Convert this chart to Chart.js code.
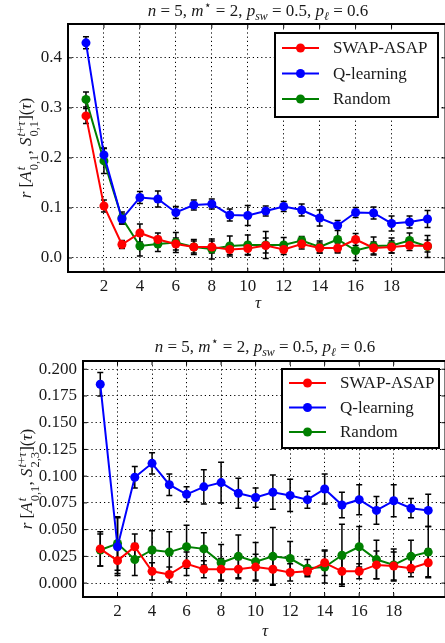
<!DOCTYPE html>
<html>
<head>
<meta charset="utf-8">
<script src="https://cdn.jsdelivr.net/npm/chart.js@4.4.1/dist/chart.umd.min.js"></script>
<style>
    body { margin: 0; width: 445px; height: 643px; overflow: hidden; background: #fff; position: relative; font-family: "Liberation Serif", "DejaVu Serif", serif; color: #1a1a1a; }
    .panel { position: absolute; left: 0; width: 450px; }
    .txt { position: absolute; font-size: 17px; white-space: nowrap; transform: translate(-50%, -50%); }
    .ylab { position: absolute; font-size: 17px; white-space: nowrap; transform: translate(-50%, -50%) rotate(-90deg); }
    .ss { display: inline-block; vertical-align: -0.55em; font-size: 0.74em; line-height: 1.0; text-align: left; margin-left: 1px; }
    .ss span { display: block; }
    sub, sup { font-size: 0.7em; line-height: 0; }
</style>
</head>
<body>
<div class="panel" style="top:0;height:318px"><canvas id="grafico1"></canvas></div>
<div class="panel" style="top:322px;height:300px"><canvas id="grafico2"></canvas></div>

<div class="txt" style="left:258px;top:11px"><i>n</i> = 5, <i>m</i><sup>⋆</sup> = 2, <i>p<sub>sw</sub></i> = 0.5, <i>p<sub>ℓ</sub></i> = 0.6</div>
<div class="txt" style="left:265px;top:347px"><i>n</i> = 5, <i>m</i><sup>⋆</sup> = 2, <i>p<sub>sw</sub></i> = 0.5, <i>p<sub>ℓ</sub></i> = 0.6</div>
<div class="ylab" style="left:28px;top:148px"><i>r</i> [<i>A</i><span class="ss"><span><i>t</i></span><span>0,1</span></span>, <i>S</i><span class="ss"><span><i>t</i>+<i>τ</i></span><span>0,1</span></span>](<i>τ</i>)</div>
<div class="ylab" style="left:29px;top:479px"><i>r</i> [<i>A</i><span class="ss"><span><i>t</i></span><span>0,1</span></span>, <i>S</i><span class="ss"><span><i>t</i>+<i>τ</i></span><span>2,3</span></span>](<i>τ</i>)</div>
<div class="txt" style="left:258px;top:303px"><i>τ</i></div>
<div class="txt" style="left:265px;top:631px"><i>τ</i></div>

<script>
// Datos
const tau = [1, 2, 3, 4, 5, 6, 7, 8, 9, 10, 11, 12, 13, 14, 15, 16, 17, 18, 19, 20];
const xTicks = [2, 4, 6, 8, 10, 12, 14, 16, 18];
const seriesNames = ['SWAP-ASAP', 'Q-learning', 'Random'];

// Panel superior: r[A_{0,1}, S_{0,1}]
const swapTop = [0.284, 0.104, 0.027, 0.050, 0.037, 0.028, 0.022, 0.022, 0.017, 0.019, 0.025, 0.017, 0.028, 0.020, 0.020, 0.037, 0.020, 0.022, 0.025, 0.024];
const swapTopErr = [0.015, 0.012, 0.008, 0.018, 0.013, 0.012, 0.012, 0.012, 0.010, 0.012, 0.015, 0.010, 0.010, 0.010, 0.010, 0.012, 0.012, 0.012, 0.010, 0.012];
const qTop = [0.430, 0.206, 0.078, 0.121, 0.118, 0.091, 0.106, 0.108, 0.086, 0.085, 0.094, 0.103, 0.096, 0.080, 0.065, 0.091, 0.090, 0.069, 0.072, 0.078];
const qTopErr = [0.012, 0.014, 0.010, 0.012, 0.016, 0.012, 0.010, 0.010, 0.012, 0.020, 0.010, 0.010, 0.012, 0.016, 0.010, 0.010, 0.012, 0.015, 0.012, 0.017];
const randTop = [0.317, 0.194, 0.080, 0.024, 0.028, 0.031, 0.022, 0.018, 0.024, 0.026, 0.026, 0.026, 0.035, 0.022, 0.037, 0.015, 0.024, 0.025, 0.035, 0.023];
const randTopErr = [0.015, 0.025, 0.012, 0.020, 0.015, 0.020, 0.015, 0.020, 0.020, 0.020, 0.027, 0.015, 0.008, 0.012, 0.025, 0.020, 0.018, 0.015, 0.015, 0.022];
const yTicksTop = [0.0, 0.1, 0.2, 0.3, 0.4];

// Panel inferior: r[A_{0,1}, S_{2,3}]
const swapBot = [0.032, 0.021, 0.034, 0.011, 0.008, 0.018, 0.013, 0.013, 0.013, 0.015, 0.013, 0.010, 0.011, 0.019, 0.011, 0.011, 0.017, 0.016, 0.014, 0.019];
const swapBotErr = [0.016, 0.012, 0.012, 0.008, 0.007, 0.011, 0.008, 0.010, 0.009, 0.012, 0.014, 0.008, 0.004, 0.012, 0.012, 0.007, 0.013, 0.013, 0.008, 0.013];
const qBot = [0.186, 0.034, 0.099, 0.112, 0.092, 0.083, 0.090, 0.094, 0.084, 0.080, 0.085, 0.082, 0.078, 0.088, 0.073, 0.078, 0.068, 0.077, 0.070, 0.068];
const qBotErr = [0.011, 0.027, 0.010, 0.010, 0.010, 0.007, 0.016, 0.019, 0.014, 0.009, 0.016, 0.015, 0.008, 0.014, 0.012, 0.014, 0.013, 0.015, 0.009, 0.015];
const randBot = [0.031, 0.037, 0.022, 0.031, 0.029, 0.034, 0.032, 0.019, 0.025, 0.020, 0.025, 0.023, 0.014, 0.015, 0.026, 0.034, 0.022, 0.017, 0.025, 0.029];
const randBotErr = [0.015, 0.025, 0.015, 0.018, 0.019, 0.020, 0.015, 0.017, 0.020, 0.018, 0.027, 0.016, 0.008, 0.015, 0.029, 0.019, 0.018, 0.015, 0.015, 0.024];
const yTicksBot = [0.000, 0.025, 0.050, 0.075, 0.100, 0.125, 0.150, 0.175, 0.200];

const colors = ['#ff0000', '#0000ff', '#008000'];
const FONT = '"Liberation Serif", "DejaVu Serif", serif';

// Barras de error dibujadas con las escalas del gráfico
const errorBarsPlugin = {
    id: 'errorBars',
    beforeDatasetsDraw(chart) {
        const ctx = chart.ctx;
        const xs = chart.scales.x, ys = chart.scales.y;
        ctx.save();
        ctx.strokeStyle = '#000';
        ctx.lineWidth = 1.5;
        chart.data.datasets.forEach(ds => {
            ds.data.forEach((p, i) => {
                const e = ds.errors[i];
                const x = xs.getPixelForValue(p.x);
                const y1 = ys.getPixelForValue(p.y - e);
                const y2 = ys.getPixelForValue(p.y + e);
                ctx.beginPath();
                ctx.moveTo(x, y1); ctx.lineTo(x, y2);
                ctx.moveTo(x - 3, y1); ctx.lineTo(x + 3, y1);
                ctx.moveTo(x - 3, y2); ctx.lineTo(x + 3, y2);
                ctx.stroke();
            });
        });
        ctx.restore();
    }
};

// Marco y marcas interiores
const framePlugin = {
    id: 'frame',
    afterDatasetsDraw(chart) {
        const ctx = chart.ctx, a = chart.chartArea;
        ctx.save();
        ctx.strokeStyle = '#000';
        ctx.lineWidth = 1;
        ctx.beginPath();
        chart.scales.x.ticks.forEach(t => {
            const x = chart.scales.x.getPixelForValue(t.value);
            ctx.moveTo(x, a.bottom); ctx.lineTo(x, a.bottom - 4);
            ctx.moveTo(x, a.top); ctx.lineTo(x, a.top + 4);
        });
        chart.scales.y.ticks.forEach(t => {
            const y = chart.scales.y.getPixelForValue(t.value);
            ctx.moveTo(a.left, y); ctx.lineTo(a.left + 4, y);
            ctx.moveTo(a.right, y); ctx.lineTo(a.right - 4, y);
        });
        ctx.stroke();
        ctx.lineWidth = 2;
        ctx.strokeRect(a.left, a.top, a.right - a.left, a.bottom - a.top);
        ctx.restore();
    }
};

// Leyenda con recuadro
const boxLegendPlugin = {
    id: 'boxLegend',
    afterDraw(chart, args, opts) {
        const ctx = chart.ctx, a = chart.chartArea;
        const left = a.left + opts.dx, top = a.top + opts.dy;
        ctx.save();
        ctx.fillStyle = '#fff';
        ctx.fillRect(left, top, opts.w, opts.h);
        ctx.strokeStyle = '#000';
        ctx.lineWidth = 2;
        ctx.strokeRect(left, top, opts.w, opts.h);
        ctx.font = '17px ' + FONT;
        ctx.textBaseline = 'middle';
        chart.data.datasets.forEach((ds, i) => {
            const y = top + opts.first + i * opts.step;
            ctx.strokeStyle = ds.borderColor;
            ctx.lineWidth = 2;
            ctx.beginPath();
            ctx.moveTo(left + 7, y); ctx.lineTo(left + 44, y);
            ctx.stroke();
            ctx.fillStyle = ds.borderColor;
            ctx.beginPath();
            ctx.arc(left + 25.5, y, 4.5, 0, Math.PI * 2);
            ctx.fill();
            ctx.fillStyle = '#1a1a1a';
            ctx.fillText(ds.label, left + 58, y + 1);
        });
        ctx.restore();
    }
};

function buildChart(id, values, errors, yTicks, yMin, yMax, decimals, yWidth, xHeight, padTop, legend) {
    const ctx = document.getElementById(id).getContext('2d');
    return new Chart(ctx, {
        type: 'line',
        data: {
            datasets: values.map((vals, i) => ({
                label: seriesNames[i],
                data: tau.map((t, j) => ({ x: t, y: vals[j] })),
                errors: errors[i],
                borderColor: colors[i],
                backgroundColor: colors[i],
                borderWidth: 2,
                pointRadius: 4.5,
                pointHoverRadius: 4.5,
                pointBorderWidth: 0,
                tension: 0
            }))
        },
        options: {
            responsive: true,
            maintainAspectRatio: false,
            animation: false,
            layout: { padding: { top: padTop, right: 0, left: 0, bottom: 0 } },
            plugins: {
                legend: { display: false },
                tooltip: { enabled: false },
                boxLegend: legend
            },
            scales: {
                x: {
                    type: 'linear',
                    min: 0,
                    max: 21,
                    afterBuildTicks: s => { s.ticks = xTicks.map(v => ({ value: v })); },
                    afterFit: s => { s.height = xHeight; },
                    ticks: { font: { family: FONT, size: 17 }, color: '#1a1a1a', padding: 4, maxRotation: 0 },
                    grid: { color: '#000', lineWidth: 1, drawTicks: false },
                    border: { display: false, dash: [1.2, 3] }
                },
                y: {
                    min: yMin,
                    max: yMax,
                    afterBuildTicks: s => { s.ticks = yTicks.map(v => ({ value: v })); },
                    afterFit: s => { s.width = yWidth; },
                    ticks: {
                        font: { family: FONT, size: 17 },
                        color: '#1a1a1a',
                        padding: 6,
                        callback: v => Number(v).toFixed(decimals)
                    },
                    grid: { color: '#000', lineWidth: 1, drawTicks: false },
                    border: { display: false, dash: [1.2, 3] }
                }
            }
        },
        plugins: [errorBarsPlugin, framePlugin, boxLegendPlugin]
    });
}

buildChart('grafico1',
    [swapTop, qTop, randTop], [swapTopErr, qTopErr, randTopErr],
    yTicksTop, -0.028, 0.4677, 1, 68, 46, 24,
    { dx: 207, dy: 9, w: 163, h: 84, first: 15, step: 25.5 });

buildChart('grafico2',
    [swapBot, qBot, randBot], [swapBotErr, qBotErr, randBotErr],
    yTicksBot, -0.013, 0.2077, 3, 83, 25, 39,
    { dx: 199, dy: 8, w: 157, h: 79, first: 14, step: 24.5 });
</script>
</body>
</html>
